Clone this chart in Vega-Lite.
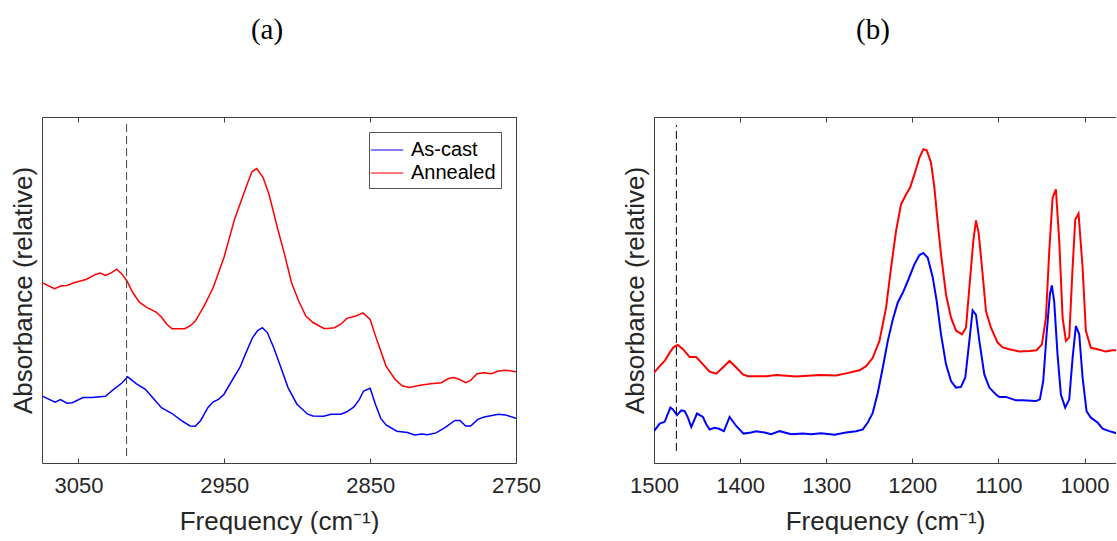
{
  "$schema": "https://vega.github.io/schema/vega-lite/v6.json",
  "padding": {"left": 10, "top": 15, "right": 0, "bottom": 0},
  "background": "white",
  "config": {
    "view": {"stroke": null},
    "font": "Liberation Sans",
    "axis": {"domainColor": "#404040", "tickColor": "#404040", "labelColor": "#262626", "titleColor": "#262626", "grid": false, "labelFont": "Liberation Sans", "titleFont": "Liberation Sans", "titleFontWeight": "normal", "labelFontSize": 22, "titleFontSize": 26, "domainWidth": 1, "tickWidth": 1, "format": "d"},
    "title": {"font": "Liberation Serif", "fontSize": 29, "fontWeight": "normal", "color": "#000000", "offset": 72, "dx": -12}
  },
  "datasets": {
    "specA": [
      {"f": 3075, "v": 52.1, "s": "Annealed"}, {"f": 3066.4, "v": 50.4, "s": "Annealed"}, {"f": 3061.6, "v": 51.2, "s": "Annealed"}, {"f": 3057.9, "v": 51.3, "s": "Annealed"}, {"f": 3053, "v": 52.1, "s": "Annealed"}, {"f": 3044.4, "v": 53.1, "s": "Annealed"}, {"f": 3038.3, "v": 54.5, "s": "Annealed"}, {"f": 3035.1, "v": 54.9, "s": "Annealed"}, {"f": 3031.5, "v": 54.2, "s": "Annealed"}, {"f": 3027.3, "v": 55.0, "s": "Annealed"}, {"f": 3023.7, "v": 56.0, "s": "Annealed"}, {"f": 3020, "v": 54.5, "s": "Annealed"}, {"f": 3016.8, "v": 52.6, "s": "Annealed"}, {"f": 3012.7, "v": 49.2, "s": "Annealed"}, {"f": 3008.3, "v": 46.5, "s": "Annealed"}, {"f": 3002.9, "v": 44.9, "s": "Annealed"}, {"f": 2996.8, "v": 43.6, "s": "Annealed"}, {"f": 2993.1, "v": 42.2, "s": "Annealed"}, {"f": 2989.4, "v": 40.1, "s": "Annealed"}, {"f": 2985.8, "v": 38.8, "s": "Annealed"}, {"f": 2977.2, "v": 38.8, "s": "Annealed"}, {"f": 2973.5, "v": 39.6, "s": "Annealed"}, {"f": 2969.9, "v": 41.0, "s": "Annealed"}, {"f": 2963.8, "v": 45.4, "s": "Annealed"}, {"f": 2957.6, "v": 50.7, "s": "Annealed"}, {"f": 2950.3, "v": 59.3, "s": "Annealed"}, {"f": 2943, "v": 70.4, "s": "Annealed"}, {"f": 2935.6, "v": 79.1, "s": "Annealed"}, {"f": 2931.2, "v": 84.1, "s": "Annealed"}, {"f": 2927.8, "v": 85.1, "s": "Annealed"}, {"f": 2923.4, "v": 82.5, "s": "Annealed"}, {"f": 2919.3, "v": 77.6, "s": "Annealed"}, {"f": 2913.6, "v": 68.0, "s": "Annealed"}, {"f": 2908.7, "v": 60.3, "s": "Annealed"}, {"f": 2903.9, "v": 52.1, "s": "Annealed"}, {"f": 2899, "v": 46.8, "s": "Annealed"}, {"f": 2894.1, "v": 42.5, "s": "Annealed"}, {"f": 2889.2, "v": 40.6, "s": "Annealed"}, {"f": 2881.4, "v": 38.8, "s": "Annealed"}, {"f": 2874.5, "v": 39.1, "s": "Annealed"}, {"f": 2870.1, "v": 40.1, "s": "Annealed"}, {"f": 2866, "v": 41.8, "s": "Annealed"}, {"f": 2859.8, "v": 42.5, "s": "Annealed"}, {"f": 2854.9, "v": 43.4, "s": "Annealed"}, {"f": 2850, "v": 41.5, "s": "Annealed"}, {"f": 2845.2, "v": 35.3, "s": "Annealed"}, {"f": 2839.1, "v": 28.0, "s": "Annealed"}, {"f": 2833, "v": 24.2, "s": "Annealed"}, {"f": 2828.1, "v": 22.3, "s": "Annealed"}, {"f": 2823.2, "v": 21.8, "s": "Annealed"}, {"f": 2815.8, "v": 22.5, "s": "Annealed"}, {"f": 2808.5, "v": 22.9, "s": "Annealed"}, {"f": 2801.2, "v": 23.2, "s": "Annealed"}, {"f": 2796.3, "v": 24.4, "s": "Annealed"}, {"f": 2792.6, "v": 24.7, "s": "Annealed"}, {"f": 2789, "v": 24.2, "s": "Annealed"}, {"f": 2784.5, "v": 23.2, "s": "Annealed"}, {"f": 2781.1, "v": 23.9, "s": "Annealed"}, {"f": 2776.7, "v": 25.8, "s": "Annealed"}, {"f": 2771.8, "v": 26.1, "s": "Annealed"}, {"f": 2766.9, "v": 25.8, "s": "Annealed"}, {"f": 2762.1, "v": 26.6, "s": "Annealed"}, {"f": 2757.2, "v": 26.8, "s": "Annealed"}, {"f": 2750, "v": 26.4, "s": "Annealed"},
      {"f": 3075, "v": 19.4, "s": "As-cast"}, {"f": 3070.1, "v": 18.4, "s": "As-cast"}, {"f": 3066, "v": 17.6, "s": "As-cast"}, {"f": 3062.3, "v": 18.3, "s": "As-cast"}, {"f": 3057.9, "v": 17.3, "s": "As-cast"}, {"f": 3054.2, "v": 17.4, "s": "As-cast"}, {"f": 3046.9, "v": 18.9, "s": "As-cast"}, {"f": 3040.8, "v": 18.9, "s": "As-cast"}, {"f": 3031.5, "v": 19.3, "s": "As-cast"}, {"f": 3026.1, "v": 21.2, "s": "As-cast"}, {"f": 3020, "v": 23.2, "s": "As-cast"}, {"f": 3016.3, "v": 24.9, "s": "As-cast"}, {"f": 3010.2, "v": 22.9, "s": "As-cast"}, {"f": 3004.1, "v": 21.3, "s": "As-cast"}, {"f": 2999.2, "v": 18.9, "s": "As-cast"}, {"f": 2993.1, "v": 16.0, "s": "As-cast"}, {"f": 2985.8, "v": 14.3, "s": "As-cast"}, {"f": 2979.6, "v": 12.3, "s": "As-cast"}, {"f": 2973.5, "v": 10.7, "s": "As-cast"}, {"f": 2969.9, "v": 10.6, "s": "As-cast"}, {"f": 2966.2, "v": 12.3, "s": "As-cast"}, {"f": 2961.3, "v": 16.0, "s": "As-cast"}, {"f": 2957.6, "v": 17.7, "s": "As-cast"}, {"f": 2954, "v": 18.4, "s": "As-cast"}, {"f": 2950.3, "v": 19.8, "s": "As-cast"}, {"f": 2944.9, "v": 23.7, "s": "As-cast"}, {"f": 2939.3, "v": 27.6, "s": "As-cast"}, {"f": 2935.6, "v": 31.4, "s": "As-cast"}, {"f": 2930.7, "v": 36.2, "s": "As-cast"}, {"f": 2927.1, "v": 38.3, "s": "As-cast"}, {"f": 2923.9, "v": 39.1, "s": "As-cast"}, {"f": 2920.5, "v": 37.7, "s": "As-cast"}, {"f": 2916.1, "v": 33.3, "s": "As-cast"}, {"f": 2911.2, "v": 27.6, "s": "As-cast"}, {"f": 2906.3, "v": 21.8, "s": "As-cast"}, {"f": 2900.2, "v": 17.0, "s": "As-cast"}, {"f": 2892.8, "v": 14.1, "s": "As-cast"}, {"f": 2889.2, "v": 13.6, "s": "As-cast"}, {"f": 2881.8, "v": 13.5, "s": "As-cast"}, {"f": 2876.9, "v": 14.1, "s": "As-cast"}, {"f": 2870.1, "v": 14.1, "s": "As-cast"}, {"f": 2866, "v": 14.8, "s": "As-cast"}, {"f": 2861.1, "v": 16.2, "s": "As-cast"}, {"f": 2857.4, "v": 18.4, "s": "As-cast"}, {"f": 2854.5, "v": 20.8, "s": "As-cast"}, {"f": 2850, "v": 21.6, "s": "As-cast"}, {"f": 2846.4, "v": 17.0, "s": "As-cast"}, {"f": 2842.7, "v": 12.9, "s": "As-cast"}, {"f": 2839.1, "v": 11.0, "s": "As-cast"}, {"f": 2831.7, "v": 9.2, "s": "As-cast"}, {"f": 2824.4, "v": 8.8, "s": "As-cast"}, {"f": 2819.5, "v": 8.1, "s": "As-cast"}, {"f": 2814.6, "v": 8.4, "s": "As-cast"}, {"f": 2810.9, "v": 8.2, "s": "As-cast"}, {"f": 2804.8, "v": 8.7, "s": "As-cast"}, {"f": 2798.7, "v": 10.2, "s": "As-cast"}, {"f": 2791.9, "v": 12.3, "s": "As-cast"}, {"f": 2788.4, "v": 12.3, "s": "As-cast"}, {"f": 2784.5, "v": 10.7, "s": "As-cast"}, {"f": 2781.1, "v": 10.7, "s": "As-cast"}, {"f": 2776.2, "v": 12.6, "s": "As-cast"}, {"f": 2771.8, "v": 13.3, "s": "As-cast"}, {"f": 2762.1, "v": 14.1, "s": "As-cast"}, {"f": 2757.2, "v": 13.9, "s": "As-cast"}, {"f": 2750, "v": 12.9, "s": "As-cast"}
    ],
    "specB": [
      {"f": 1500, "v": 26.1, "s": "Annealed"}, {"f": 1493.4, "v": 28.0, "s": "Annealed"}, {"f": 1487.6, "v": 29.5, "s": "Annealed"}, {"f": 1481.8, "v": 31.9, "s": "Annealed"}, {"f": 1477.2, "v": 33.5, "s": "Annealed"}, {"f": 1472.2, "v": 34.1, "s": "Annealed"}, {"f": 1466.4, "v": 32.9, "s": "Annealed"}, {"f": 1458.6, "v": 30.6, "s": "Annealed"}, {"f": 1450.9, "v": 30.6, "s": "Annealed"}, {"f": 1443.2, "v": 28.5, "s": "Annealed"}, {"f": 1435.4, "v": 26.4, "s": "Annealed"}, {"f": 1427.7, "v": 25.8, "s": "Annealed"}, {"f": 1420, "v": 27.6, "s": "Annealed"}, {"f": 1412.2, "v": 29.5, "s": "Annealed"}, {"f": 1404.5, "v": 27.6, "s": "Annealed"}, {"f": 1396.8, "v": 25.6, "s": "Annealed"}, {"f": 1391, "v": 25.1, "s": "Annealed"}, {"f": 1369.7, "v": 25.1, "s": "Annealed"}, {"f": 1358.1, "v": 25.4, "s": "Annealed"}, {"f": 1334.9, "v": 25.0, "s": "Annealed"}, {"f": 1307.8, "v": 25.4, "s": "Annealed"}, {"f": 1288.5, "v": 25.3, "s": "Annealed"}, {"f": 1276.9, "v": 25.9, "s": "Annealed"}, {"f": 1261.4, "v": 26.8, "s": "Annealed"}, {"f": 1253.7, "v": 28.0, "s": "Annealed"}, {"f": 1246, "v": 30.4, "s": "Annealed"}, {"f": 1238.2, "v": 35.3, "s": "Annealed"}, {"f": 1230.5, "v": 44.9, "s": "Annealed"}, {"f": 1224.7, "v": 56.5, "s": "Annealed"}, {"f": 1218.9, "v": 67.1, "s": "Annealed"}, {"f": 1213.1, "v": 74.8, "s": "Annealed"}, {"f": 1207.3, "v": 77.6, "s": "Annealed"}, {"f": 1202.6, "v": 79.6, "s": "Annealed"}, {"f": 1197.6, "v": 83.4, "s": "Annealed"}, {"f": 1191.8, "v": 88.2, "s": "Annealed"}, {"f": 1187.2, "v": 90.7, "s": "Annealed"}, {"f": 1183.3, "v": 90.4, "s": "Annealed"}, {"f": 1178.3, "v": 86.8, "s": "Annealed"}, {"f": 1174.4, "v": 79.6, "s": "Annealed"}, {"f": 1170.5, "v": 69.4, "s": "Annealed"}, {"f": 1166.7, "v": 60.3, "s": "Annealed"}, {"f": 1160.9, "v": 48.7, "s": "Annealed"}, {"f": 1155.1, "v": 42.0, "s": "Annealed"}, {"f": 1149.3, "v": 38.3, "s": "Annealed"}, {"f": 1142.3, "v": 37.2, "s": "Annealed"}, {"f": 1137.7, "v": 39.1, "s": "Annealed"}, {"f": 1133.8, "v": 50.7, "s": "Annealed"}, {"f": 1129.2, "v": 64.2, "s": "Annealed"}, {"f": 1126.1, "v": 70.1, "s": "Annealed"}, {"f": 1123, "v": 66.5, "s": "Annealed"}, {"f": 1119.1, "v": 56.5, "s": "Annealed"}, {"f": 1114.5, "v": 43.9, "s": "Annealed"}, {"f": 1108.7, "v": 39.1, "s": "Annealed"}, {"f": 1101, "v": 34.8, "s": "Annealed"}, {"f": 1095.1, "v": 33.4, "s": "Annealed"}, {"f": 1087.4, "v": 32.9, "s": "Annealed"}, {"f": 1075.8, "v": 32.2, "s": "Annealed"}, {"f": 1064.2, "v": 32.4, "s": "Annealed"}, {"f": 1055.7, "v": 32.6, "s": "Annealed"}, {"f": 1049.5, "v": 34.3, "s": "Annealed"}, {"f": 1044.9, "v": 42.0, "s": "Annealed"}, {"f": 1041, "v": 61.3, "s": "Annealed"}, {"f": 1037.1, "v": 76.7, "s": "Annealed"}, {"f": 1033.3, "v": 79.1, "s": "Annealed"}, {"f": 1029.4, "v": 64.2, "s": "Annealed"}, {"f": 1025.5, "v": 42.0, "s": "Annealed"}, {"f": 1021.7, "v": 35.3, "s": "Annealed"}, {"f": 1017.8, "v": 36.3, "s": "Annealed"}, {"f": 1013.9, "v": 56.5, "s": "Annealed"}, {"f": 1010.8, "v": 70.4, "s": "Annealed"}, {"f": 1007, "v": 72.1, "s": "Annealed"}, {"f": 1002.3, "v": 56.5, "s": "Annealed"}, {"f": 998.5, "v": 38.2, "s": "Annealed"}, {"f": 992.7, "v": 33.3, "s": "Annealed"}, {"f": 984.9, "v": 32.9, "s": "Annealed"}, {"f": 975.3, "v": 32.2, "s": "Annealed"}, {"f": 967.5, "v": 32.6, "s": "Annealed"}, {"f": 963, "v": 32.6, "s": "Annealed"},
      {"f": 1500, "v": 9.2, "s": "As-cast"}, {"f": 1493.4, "v": 11.4, "s": "As-cast"}, {"f": 1487.6, "v": 11.9, "s": "As-cast"}, {"f": 1481, "v": 16.0, "s": "As-cast"}, {"f": 1478, "v": 15.5, "s": "As-cast"}, {"f": 1473.3, "v": 13.8, "s": "As-cast"}, {"f": 1468.3, "v": 15.2, "s": "As-cast"}, {"f": 1464.4, "v": 15.0, "s": "As-cast"}, {"f": 1460.6, "v": 13.1, "s": "As-cast"}, {"f": 1456.7, "v": 10.4, "s": "As-cast"}, {"f": 1450.1, "v": 14.3, "s": "As-cast"}, {"f": 1443.2, "v": 13.3, "s": "As-cast"}, {"f": 1439.3, "v": 11.2, "s": "As-cast"}, {"f": 1435.4, "v": 9.7, "s": "As-cast"}, {"f": 1429.6, "v": 10.2, "s": "As-cast"}, {"f": 1424.6, "v": 9.9, "s": "As-cast"}, {"f": 1418.8, "v": 9.2, "s": "As-cast"}, {"f": 1412.2, "v": 13.3, "s": "As-cast"}, {"f": 1404.5, "v": 10.7, "s": "As-cast"}, {"f": 1396, "v": 8.5, "s": "As-cast"}, {"f": 1387.1, "v": 8.8, "s": "As-cast"}, {"f": 1381.3, "v": 9.2, "s": "As-cast"}, {"f": 1371.6, "v": 8.8, "s": "As-cast"}, {"f": 1363.9, "v": 8.3, "s": "As-cast"}, {"f": 1354.2, "v": 9.2, "s": "As-cast"}, {"f": 1340.7, "v": 8.3, "s": "As-cast"}, {"f": 1327.1, "v": 8.5, "s": "As-cast"}, {"f": 1317.5, "v": 8.3, "s": "As-cast"}, {"f": 1305.9, "v": 8.6, "s": "As-cast"}, {"f": 1290.4, "v": 8.2, "s": "As-cast"}, {"f": 1276.9, "v": 8.8, "s": "As-cast"}, {"f": 1265.3, "v": 9.2, "s": "As-cast"}, {"f": 1257.5, "v": 9.7, "s": "As-cast"}, {"f": 1251.7, "v": 11.7, "s": "As-cast"}, {"f": 1246, "v": 14.5, "s": "As-cast"}, {"f": 1240.1, "v": 20.3, "s": "As-cast"}, {"f": 1234.3, "v": 27.6, "s": "As-cast"}, {"f": 1228.5, "v": 35.3, "s": "As-cast"}, {"f": 1222.7, "v": 41.5, "s": "As-cast"}, {"f": 1216.9, "v": 46.4, "s": "As-cast"}, {"f": 1211.1, "v": 49.2, "s": "As-cast"}, {"f": 1205.3, "v": 52.6, "s": "As-cast"}, {"f": 1197.6, "v": 57.4, "s": "As-cast"}, {"f": 1191.8, "v": 60.1, "s": "As-cast"}, {"f": 1187.2, "v": 60.7, "s": "As-cast"}, {"f": 1182.1, "v": 59.3, "s": "As-cast"}, {"f": 1176.3, "v": 53.6, "s": "As-cast"}, {"f": 1171.7, "v": 46.8, "s": "As-cast"}, {"f": 1166.7, "v": 37.2, "s": "As-cast"}, {"f": 1160.9, "v": 28.5, "s": "As-cast"}, {"f": 1155.1, "v": 23.7, "s": "As-cast"}, {"f": 1149.3, "v": 21.8, "s": "As-cast"}, {"f": 1143.5, "v": 22.0, "s": "As-cast"}, {"f": 1138.5, "v": 24.7, "s": "As-cast"}, {"f": 1133.8, "v": 35.3, "s": "As-cast"}, {"f": 1130, "v": 44.1, "s": "As-cast"}, {"f": 1126.1, "v": 42.8, "s": "As-cast"}, {"f": 1122.2, "v": 35.3, "s": "As-cast"}, {"f": 1116.4, "v": 25.6, "s": "As-cast"}, {"f": 1110.6, "v": 21.8, "s": "As-cast"}, {"f": 1102.9, "v": 19.8, "s": "As-cast"}, {"f": 1099, "v": 19.1, "s": "As-cast"}, {"f": 1091.3, "v": 19.1, "s": "As-cast"}, {"f": 1079.7, "v": 18.1, "s": "As-cast"}, {"f": 1072, "v": 18.1, "s": "As-cast"}, {"f": 1056.5, "v": 17.9, "s": "As-cast"}, {"f": 1051.9, "v": 18.4, "s": "As-cast"}, {"f": 1048, "v": 23.7, "s": "As-cast"}, {"f": 1044.1, "v": 37.2, "s": "As-cast"}, {"f": 1040.3, "v": 48.7, "s": "As-cast"}, {"f": 1038, "v": 51.3, "s": "As-cast"}, {"f": 1035.3, "v": 46.8, "s": "As-cast"}, {"f": 1031.4, "v": 31.4, "s": "As-cast"}, {"f": 1027.5, "v": 19.8, "s": "As-cast"}, {"f": 1022.5, "v": 16.0, "s": "As-cast"}, {"f": 1017.8, "v": 18.4, "s": "As-cast"}, {"f": 1013.9, "v": 30.4, "s": "As-cast"}, {"f": 1010.1, "v": 39.6, "s": "As-cast"}, {"f": 1006.2, "v": 37.2, "s": "As-cast"}, {"f": 1002.3, "v": 24.7, "s": "As-cast"}, {"f": 997.7, "v": 15.0, "s": "As-cast"}, {"f": 992.7, "v": 13.1, "s": "As-cast"}, {"f": 984.9, "v": 11.7, "s": "As-cast"}, {"f": 979.1, "v": 9.9, "s": "As-cast"}, {"f": 971.3, "v": 9.2, "s": "As-cast"}, {"f": 963, "v": 8.6, "s": "As-cast"}
    ],
    "ruleA": [{"f": 3017, "y1": 2, "y2": 98.4}],
    "ruleB": [{"f": 1474, "y1": 3.5, "y2": 97.7}]
  },
  "bounds": "flush",
  "spacing": 138,
  "resolve": {"scale": {"x": "independent", "y": "independent", "color": "independent"}, "legend": {"color": "independent"}},
  "hconcat": [
    {
      "width": 474,
      "height": 346,
      "title": "(a)",
      "resolve": {"axis": {"x": "independent", "y": "independent"}},
      "layer": [
        {
          "data": {"name": "specA"},
          "mark": {"type": "line", "strokeWidth": 1.5, "clip": true},
          "encoding": {
            "x": {"field": "f", "type": "quantitative", "scale": {"domain": [3075, 2750], "nice": false, "zero": false},
              "axis": {"orient": "bottom", "values": [3050, 2950, 2850, 2750], "tickSize": -5, "labelPadding": 17, "title": "Frequency (cm⁻¹)", "titlePadding": 12, "labelFlush": false}},
            "y": {"field": "v", "type": "quantitative", "scale": {"domain": [0, 100], "nice": false, "zero": false},
              "axis": {"orient": "left", "ticks": false, "labels": false, "title": "Absorbance (relative)", "titlePadding": 6}},
            "color": {"field": "s", "type": "nominal", "scale": {"domain": ["As-cast", "Annealed"], "range": ["#0000FF", "#FF0000"]},
              "legend": {"orient": "none", "legendX": 327, "legendY": 15, "title": null, "symbolType": "M-1.35,0H1.35", "symbolSize": 576, "symbolStrokeWidth": 1.2, "labelFontSize": 20, "labelFont": "Liberation Sans", "labelColor": "#000000", "strokeColor": "#555555", "fillColor": "#FFFFFF", "padding": 5, "rowPadding": 0, "labelOffset": 11}}
          }
        },
        {
          "data": {"name": "ruleA"},
          "mark": {"type": "rule", "strokeDash": [8, 4], "color": "#404040", "strokeWidth": 1},
          "encoding": {
            "x": {"field": "f", "type": "quantitative", "axis": {"orient": "top", "values": [3050, 2950, 2850, 2750], "tickSize": -5, "labels": false, "title": null}},
            "y": {"field": "y1", "type": "quantitative", "axis": {"orient": "right", "ticks": false, "labels": false, "title": null}},
            "y2": {"field": "y2"}
          }
        }
      ]
    },
    {
      "width": 462,
      "height": 346,
      "title": "(b)",
      "resolve": {"axis": {"x": "independent", "y": "independent"}},
      "layer": [
        {
          "data": {"name": "specB"},
          "mark": {"type": "line", "strokeWidth": 2, "clip": true},
          "encoding": {
            "x": {"field": "f", "type": "quantitative", "scale": {"domain": [1500, 963.5], "nice": false, "zero": false},
              "axis": {"orient": "bottom", "values": [1500, 1400, 1300, 1200, 1100, 1000], "tickSize": -5, "labelPadding": 17, "title": "Frequency (cm⁻¹)", "titlePadding": 12, "labelFlush": false}},
            "y": {"field": "v", "type": "quantitative", "scale": {"domain": [0, 100], "nice": false, "zero": false},
              "axis": {"orient": "left", "ticks": false, "labels": false, "title": "Absorbance (relative)", "titlePadding": 6}},
            "color": {"field": "s", "type": "nominal", "scale": {"domain": ["As-cast", "Annealed"], "range": ["#0000FF", "#FF0000"]}, "legend": null}
          }
        },
        {
          "data": {"name": "ruleB"},
          "mark": {"type": "rule", "strokeDash": [8, 4], "color": "#000000", "strokeWidth": 1},
          "encoding": {
            "x": {"field": "f", "type": "quantitative", "axis": {"orient": "top", "values": [1500, 1400, 1300, 1200, 1100, 1000], "tickSize": -5, "labels": false, "title": null}},
            "y": {"field": "y1", "type": "quantitative", "axis": null},
            "y2": {"field": "y2"}
          }
        }
      ]
    }
  ]
}
